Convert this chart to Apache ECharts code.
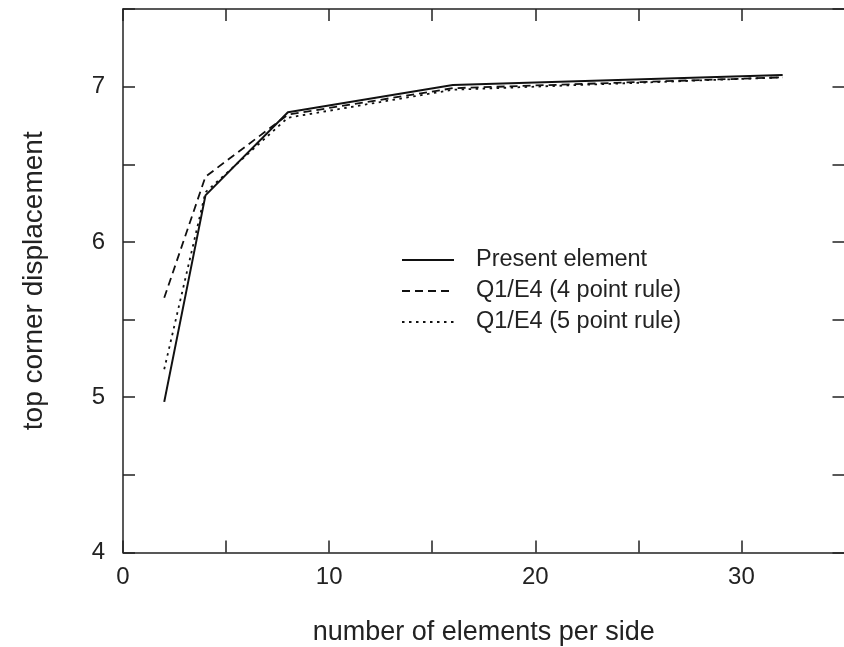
<!DOCTYPE html>
<html>
<head>
<meta charset="utf-8">
<script src="https://cdn.jsdelivr.net/npm/echarts@6/dist/echarts.min.js"></script>
<style>
html,body{margin:0;padding:0;background:#fff;}
#chart{width:844px;height:647px;}
</style>
</head>
<body>
<div id="chart"></div>
<script>
const xValues = [2, 4, 8, 16, 32];
const presentElement = [4.97, 6.30, 6.835, 7.01, 7.075];
const q1e4Four = [5.64, 6.42, 6.82, 6.99, 7.06];
const q1e4Five = [5.18, 6.32, 6.80, 6.98, 7.06];
const seriesNames = ['Present element', 'Q1/E4 (4 point rule)', 'Q1/E4 (5 point rule)'];
const xTitle = 'number of elements per side';
const yTitle = 'top corner displacement';

const FONT = '"Liberation Sans", Arial, sans-serif';
const AX = '#222';

function pairs(ys) { return xValues.map((x, i) => [x, ys[i]]); }

const chart = echarts.init(document.getElementById('chart'));
const baseAxisLine = { show: true, onZero: false, lineStyle: { color: AX, width: 1.5 } };
const tick = { show: true, inside: true, length: 12, lineStyle: { color: AX, width: 1.5 } };

chart.setOption({
  animation: false,
  backgroundColor: '#fff',
  grid: { left: 123, top: 9, width: 721.5, height: 543.5, outerBoundsMode: 'none', containLabel: false },
  legend: {
    orient: 'vertical',
    left: 401,
    top: 248,
    padding: 0,
    itemWidth: 52,
    itemHeight: 14,
    itemGap: 7,
    data: seriesNames,
    itemStyle: { opacity: 0 },
    textStyle: { fontFamily: FONT, fontSize: 23.5, color: AX, padding: [0, 0, 0, 17] }
  },
  xAxis: [
    {
      type: 'value', min: 0, max: 35, interval: 5, position: 'bottom',
      name: xTitle, nameLocation: 'middle', nameGap: 67,
      nameTextStyle: { fontFamily: FONT, fontSize: 27, color: AX },
      axisLine: baseAxisLine, axisTick: tick, splitLine: { show: false },
      axisLabel: {
        margin: 13, fontFamily: FONT, fontSize: 24, color: AX,
        formatter: v => (v % 10 === 0 && v < 35) ? String(v) : ''
      }
    },
    {
      type: 'value', min: 0, max: 35, interval: 5, position: 'top',
      axisLine: baseAxisLine, axisTick: tick, splitLine: { show: false },
      axisLabel: { show: false }
    }
  ],
  yAxis: [
    {
      type: 'value', min: 4, max: 7.5, interval: 0.5, position: 'left',
      name: yTitle, nameLocation: 'middle', nameGap: 75, nameRotate: 90,
      nameTextStyle: { fontFamily: FONT, fontSize: 28, color: AX },
      axisLine: baseAxisLine, axisTick: tick, splitLine: { show: false },
      axisLabel: {
        margin: 18, fontFamily: FONT, fontSize: 24, color: AX,
        formatter: v => Number.isInteger(v) && v < 7.5 ? String(v) : ''
      }
    },
    {
      type: 'value', min: 4, max: 7.5, interval: 0.5, position: 'right',
      axisLine: baseAxisLine, axisTick: tick, splitLine: { show: false },
      axisLabel: { show: false }
    }
  ],
  series: [
    {
      name: seriesNames[0], type: 'line', data: pairs(presentElement),
      symbol: 'none', lineStyle: { color: '#111', width: 2, type: 'solid' },
      itemStyle: { color: '#111' }
    },
    {
      name: seriesNames[1], type: 'line', data: pairs(q1e4Four),
      symbol: 'none', lineStyle: { color: '#111', width: 1.8, type: [8, 5] },
      itemStyle: { color: '#111' }
    },
    {
      name: seriesNames[2], type: 'line', data: pairs(q1e4Five),
      symbol: 'none', lineStyle: { color: '#111', width: 1.8, type: [2.5, 4.5] },
      itemStyle: { color: '#111' }
    }
  ]
});
</script>
</body>
</html>
